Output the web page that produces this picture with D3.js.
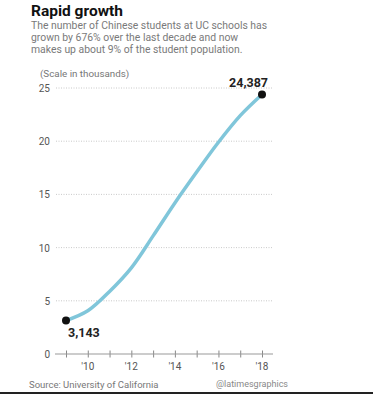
<!DOCTYPE html>
<html><head><meta charset="utf-8">
<script src="https://cdn.jsdelivr.net/npm/d3@7"></script>
<style>
html,body{margin:0;padding:0;background:#fff;}
svg{display:block;font-family:"Roboto","Noto Sans",sans-serif;}
</style></head>
<body><svg id="c" width="373" height="394"></svg>
<script>
const years = [2009,2010,2011,2012,2013,2014,2015,2016,2017,2018];
const students = [3.143,4.06,5.88,8.1,11.1,14.2,17.1,19.9,22.4,24.387];
const yTicks = [0,5,10,15,20,25];
const xTickYears = [2010,2012,2014,2016,2018];
const xTickLabels = ["'10","'12","'14","'16","'18"];

const svg = d3.select("#c");
const x = d3.scaleLinear().domain([2009,2018]).range([66,262]);
const y = d3.scaleLinear().domain([0,25]).range([354,88]);

// title & subtitle
svg.append("text").attr("x",31).attr("y",16).attr("font-size",15.5).attr("font-weight",700).attr("fill","#111").text("Rapid growth");
const sub = ["The number of Chinese students at UC schools has","grown by 676% over the last decade and now","makes up about 9% of the student population."];
sub.forEach((s,i)=>svg.append("text").attr("x",31).attr("y",28.5+i*12.4).attr("font-size",10.4).attr("fill","#7a7a7a").text(s));
svg.append("text").attr("x",40).attr("y",77).attr("font-size",9.8).attr("fill","#777").text("(Scale in thousands)");

// gridlines
svg.append("g").selectAll("line").data(yTicks.filter(d=>d>0)).join("line")
  .attr("x1",56).attr("x2",273).attr("y1",d=>y(d)).attr("y2",d=>y(d))
  .attr("stroke","#bbb").attr("stroke-width",0.8).attr("stroke-dasharray","1,1.5");
svg.append("g").selectAll("text").data(yTicks).join("text")
  .attr("x",50).attr("y",d=>y(d)+4).attr("text-anchor","end")
  .attr("font-size",10).attr("fill","#555").text(d=>d);

// x axis
const xAxis = d3.axisBottom(x).tickValues(d3.range(2009,2019)).tickSize(7).tickFormat("");
const gx = svg.append("g").attr("transform","translate(0,"+y(0)+")").call(xAxis);
gx.select(".domain").remove();
gx.selectAll(".tick line").attr("stroke","#888").attr("transform","translate(0,-3.5)");
svg.append("line").attr("x1",55).attr("x2",273).attr("y1",y(0)).attr("y2",y(0)).attr("stroke","#999").attr("stroke-width",1);
svg.append("g").selectAll("text").data(xTickYears).join("text")
  .attr("x",d=>x(d)).attr("y",370).attr("text-anchor","middle")
  .attr("font-size",10).attr("fill","#555").text((d,i)=>xTickLabels[i]);

// line
const line = d3.line().x((d,i)=>x(years[i])).y(d=>y(d)).curve(d3.curveCatmullRom.alpha(0.5));
svg.append("path").datum(students).attr("d",line).attr("fill","none")
  .attr("stroke","#80c6da").attr("stroke-width",3.5).attr("stroke-linecap","round");

// end dots
const ends = [0, years.length-1];
svg.append("g").selectAll("circle").data(ends).join("circle")
  .attr("cx",i=>x(years[i])).attr("cy",i=>y(students[i])).attr("r",4).attr("fill","#111");
svg.append("text").attr("x",x(years[0])+2).attr("y",y(students[0])+16.5).attr("font-size",12.5).attr("font-weight",700).attr("fill","#222")
  .text(d3.format(",")(Math.round(students[0]*1000)));
svg.append("text").attr("x",x(years[9])+6).attr("y",y(students[9])-8).attr("text-anchor","end").attr("font-size",12.5).attr("font-weight",700).attr("fill","#222")
  .text(d3.format(",")(Math.round(students[9]*1000)));

// footer
svg.append("text").attr("x",29).attr("y",388).attr("font-size",9.5).attr("fill","#777").text("Source: University of California");
svg.append("text").attr("x",288).attr("y",387).attr("text-anchor","end").attr("font-size",9).attr("fill","#888").text("@latimesgraphics");
svg.append("rect").attr("x",0).attr("y",392).attr("width",373).attr("height",2).attr("fill","#222");
</script></body></html>
